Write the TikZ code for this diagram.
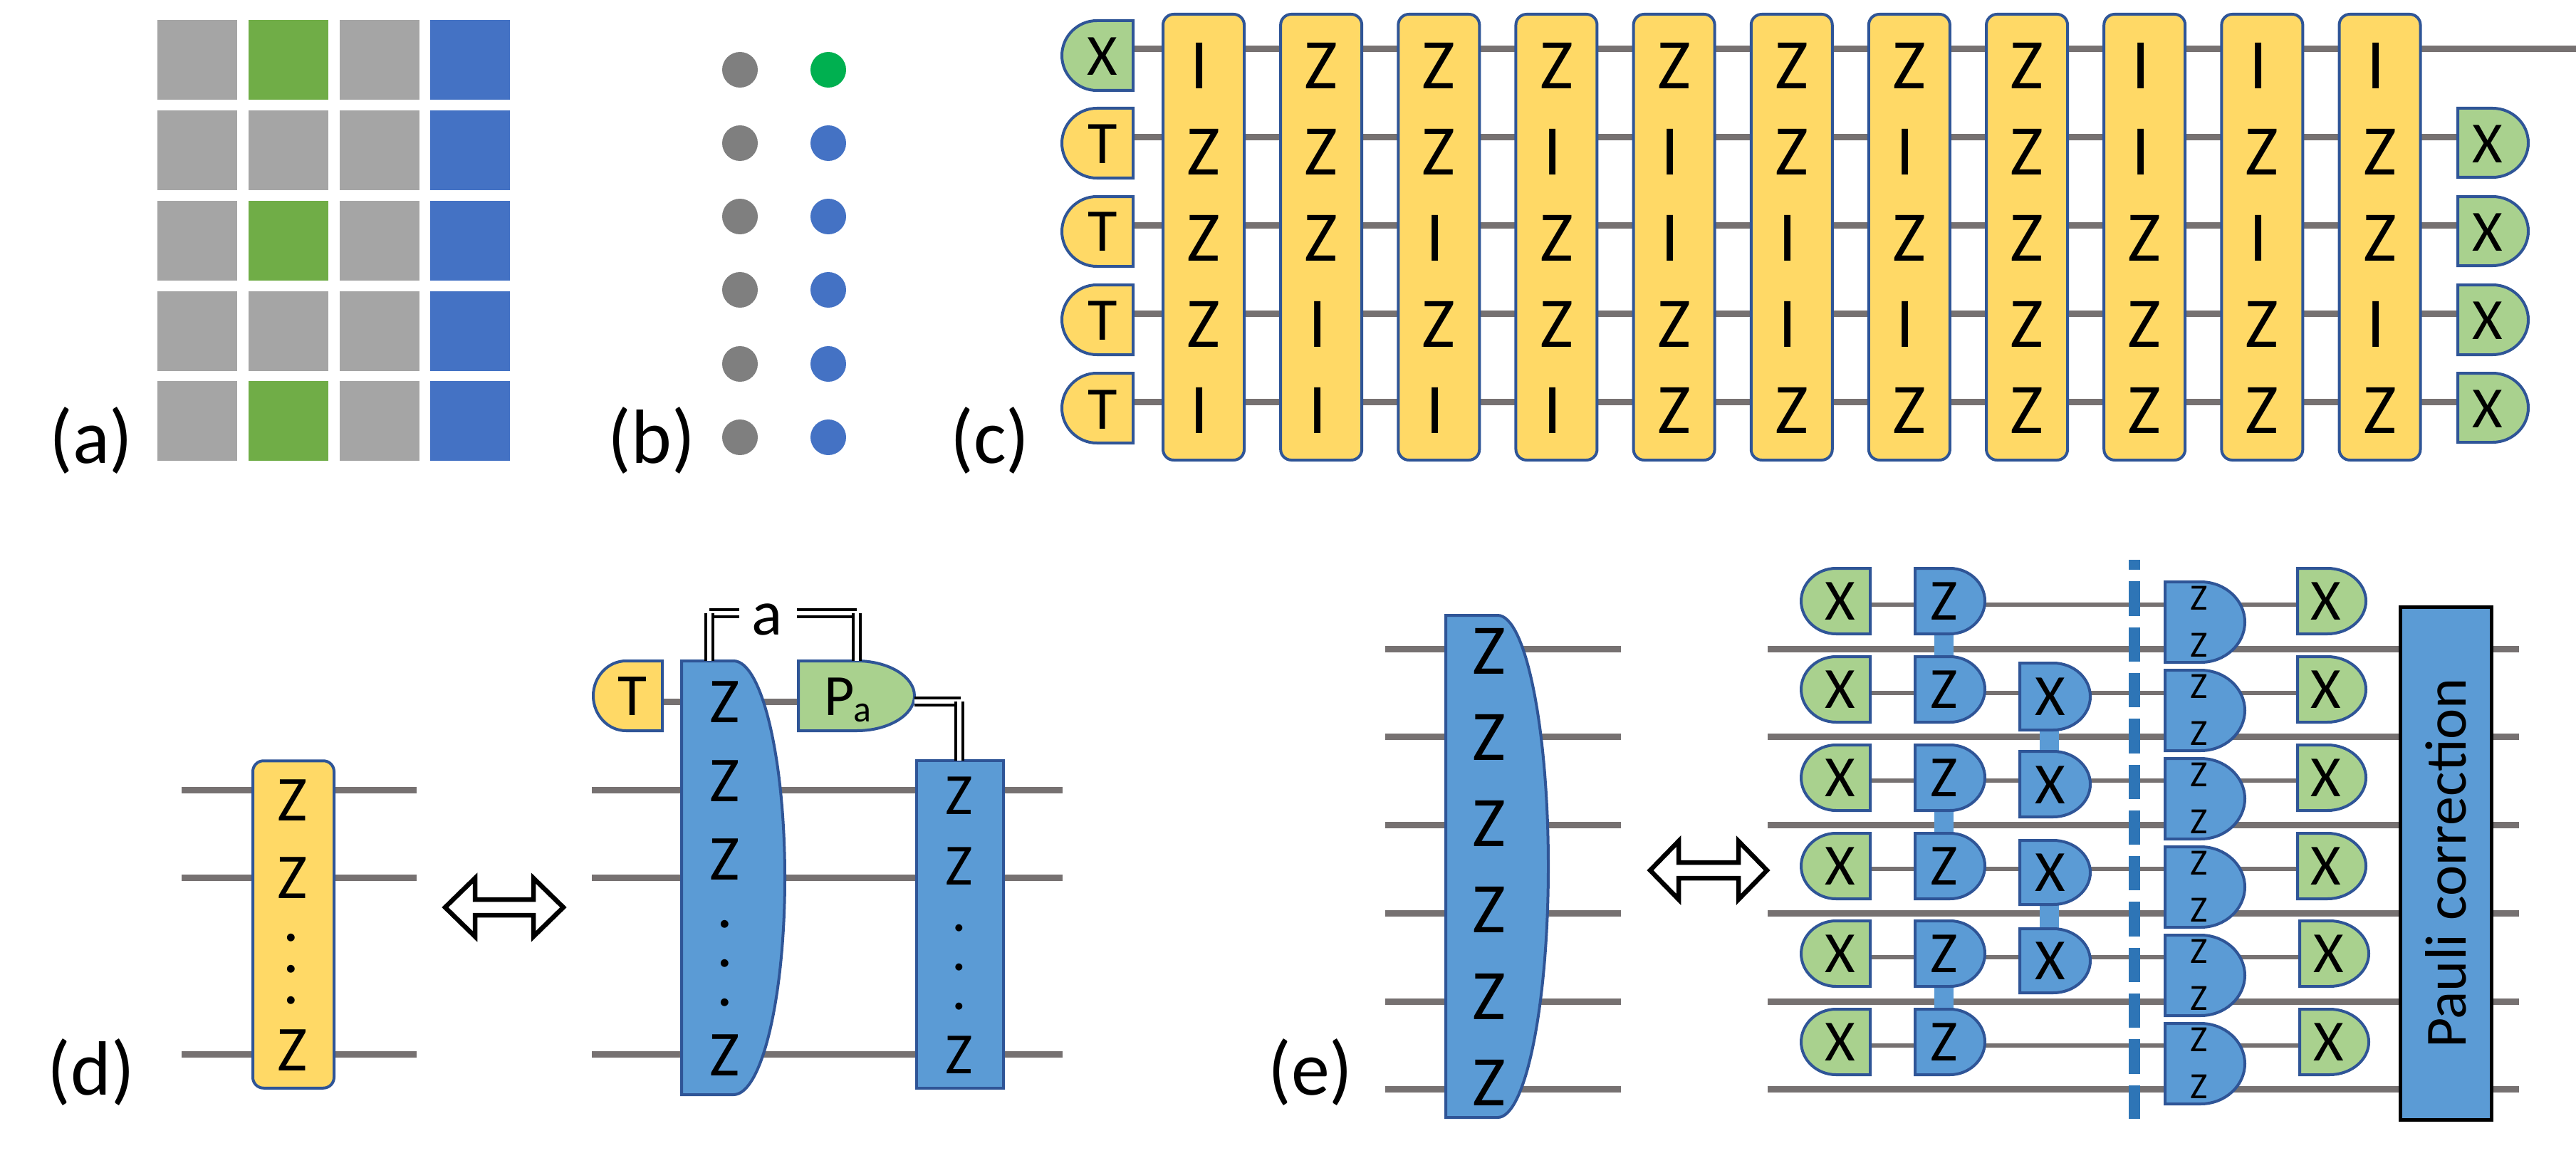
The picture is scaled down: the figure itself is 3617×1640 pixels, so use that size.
\documentclass[tikz,border=0pt]{standalone}
\usepackage{fontspec}
\setmainfont{Carlito}
\usetikzlibrary{backgrounds,calc}
\definecolor{cwire}{HTML}{767171}
\definecolor{cedge}{HTML}{2F5597}
\definecolor{cyel}{HTML}{FFD966}
\definecolor{cgrn}{HTML}{A9D18E}
\definecolor{cblu}{HTML}{5B9BD5}
\definecolor{cdash}{HTML}{2E75B6}
\definecolor{cgray}{HTML}{A5A5A5}
\definecolor{cgrid}{HTML}{70AD47}
\definecolor{cgridb}{HTML}{4472C4}
\definecolor{cdot}{HTML}{7F7F7F}
\definecolor{cdotg}{HTML}{00B050}
\newcommand\gfs[1]{\fontsize{#1}{#1}\selectfont}
% name, straight x, bend x, round x, top y, bottom y, fill
\newcommand\gate[7]{%
  \pgfmathsetmacro\gmid{(#5+#6)/2}%
  \pgfmathsetmacro\gk{0.45*(#6-#5)/2}%
  \pgfmathsetmacro\gxa{#3+0.55*(#4-#3)}%
  \path[fill=#7,draw=cedge,line width=4pt,line join=miter]
    (#2,#5) -- (#3,#5) .. controls (\gxa,#5) and (#4,{#5+\gk}) .. (#4,\gmid)
    .. controls (#4,{#6-\gk}) and (\gxa,#6) .. (#3,#6) -- (#2,#6) -- cycle;
  \node[gbound,minimum width={abs(#4-#2)*1pt},minimum height={(#6-#5)*1pt}] (#1) at ({(#2+#4)/2},\gmid) {};
}
\tikzset{
  x=1pt,y=-1pt,
  gbound/.style={inner sep=0pt,outer sep=0pt,draw=none},
  wire/.style={draw=cwire,line width=9pt},
  thinwire/.style={draw=cwire,line width=6.5pt},
  gl/.style={inner sep=0pt,outer sep=0pt,font=\gfs{#1}},
  gl/.default=80,
  cell/.style={inner sep=0pt,outer sep=0pt,minimum width=112pt,minimum height=#1,fill=cgray},
  dotn/.style={circle,inner sep=0pt,outer sep=0pt,minimum size=50pt,fill=#1},
  yelcol/.style={draw=cedge,fill=cyel,line width=4pt,rounded corners=15pt,inner sep=0pt,outer sep=0pt},
  blubox/.style={draw=cedge,fill=cblu,line width=4pt,inner sep=0pt,outer sep=0pt},
  pauli/.style={draw=black,fill=cblu,line width=5pt,inner sep=0pt,outer sep=0pt,font=\gfs{82}},
  dbl/.style={draw=black,line width=4pt,double=white,double distance=6pt},
  bar/.style={draw=cblu,line width=27pt},
  dashl/.style={draw=cdash,line width=16pt,dash pattern=on 48.3pt off 16pt,dash phase=34pt},
  bigarrow/.style={draw=black,fill=white,line width=6.5pt,line join=miter},
  lab/.style={inner sep=0pt,outer sep=0pt,font=\gfs{108}},
}
\begin{document}
\begin{tikzpicture}
\useasboundingbox (0,0) rectangle (3617,1640);
% ---------- (a)
\foreach \r/\yc in {1/84,2/211,3/337.5,4/464.5,5/591}{
  \foreach \c/\xc in {1/277,2/405,3/532.5}{
    \node[cell=112pt] (a\r\c) at (\xc,\yc) {};
  }
  \node[cell=112pt,fill=cgridb] (a\r4) at (660,\yc) {};
}
\foreach \r/\yc in {1/84,3/337.5,5/591}{
  \node[cell=112pt,fill=cgrid] (ag\r) at (405,\yc) {};
}
\node[lab] (la) at (128,618) {(a)};
% ---------- (b)
\foreach \r/\yc in {1/98,2/201,3/304,4/407,5/511,6/614}{
  \node[dotn=cdot] (bl\r) at (1039,\yc) {};
}
\node[dotn=cdotg] (br1) at (1163,98) {};
\foreach \r/\yc in {2/201,3/304,4/407,5/511,6/614}{
  \node[dotn=cgridb] (br\r) at (1163,\yc) {};
}
\node[lab] (lb) at (915,618) {(b)};
% ---------- (c)
\node[lab] (lc) at (1390,618) {(c)};
\gate{cin1}{1591}{1540}{1491}{29}{127}{cgrn}
\gate{cin2}{1591}{1540}{1491}{152}{250}{cyel}
\gate{cin3}{1591}{1540}{1491}{276}{374}{cyel}
\gate{cin4}{1591}{1540}{1491}{400}{498}{cyel}
\gate{cin5}{1591}{1540}{1491}{524}{622}{cyel}
\node[gl=82] (tx1) at (1548,79) {X};
\foreach \r/\yc in {2/202,3/325,4/450,5/575}{
  \node[gl=85] (tx\r) at (1548,\yc) {T};
}
\gate{cout2}{3451}{3500}{3550}{152}{249}{cgrn}
\gate{cout3}{3451}{3500}{3550}{276}{373}{cgrn}
\gate{cout4}{3451}{3500}{3550}{400}{498}{cgrn}
\gate{cout5}{3451}{3500}{3550}{524}{621}{cgrn}
\foreach \r/\yc in {2/202,3/326,4/450,5/574}{
  \node[gl=82] (ox\r) at (3492.5,\yc) {X};
}
\foreach \col [count=\i] in {{I,Z,Z,Z,I},{Z,Z,Z,I,I},{Z,Z,I,Z,I},{Z,I,Z,Z,I},{Z,I,I,Z,Z},{Z,Z,I,I,Z},{Z,I,Z,I,Z},{Z,Z,Z,Z,Z},{I,I,Z,Z,Z},{I,Z,I,Z,Z},{I,Z,Z,I,Z}}{
  \pgfmathsetmacro\cx{1690+165.15*(\i-1)}
  \node[yelcol,minimum width=114pt,minimum height=626pt] (col\i) at (\cx,333) {};
  \foreach \c [count=\r] in \col {
    \pgfmathsetmacro\ry{92+121*(\r-1)}
    \if I\c \pgfmathsetmacro\lx{\cx-5.5}\else \pgfmathsetmacro\lx{\cx}\fi
    \node[gl=100] (l\i-\r) at (\lx,\ry) {\c};
  }
}
\coordinate (wendc) at (3617,69);
\begin{scope}[on background layer]
  \draw[wire] (cin1.east |- wendc) -- (wendc);
  \foreach \r/\yw in {2/193,3/316,4/440,5/564}{
    \coordinate (w\r) at (2000,\yw);
    \draw[wire] (cin\r.east |- w\r) -- (cout\r.west |- w\r);
  }
\end{scope}
% ---------- (d)
\node[lab] (ld) at (128,1505) {(d)};
\node[yelcol,minimum width=114pt,minimum height=459.5pt] (dy) at (412,1298) {};
\node[gl=90] (dy1) at (411,1124) {Z};
\node[gl=90] (dy2) at (411,1233) {Z};
\node[gl=90] (dy3) at (408.5,1317) {.};
\node[gl=90] (dy4) at (408.5,1361) {.};
\node[gl=90] (dy5) at (408.5,1405) {.};
\node[gl=90] (dy6) at (411,1475) {Z};
\draw[bigarrow] (625,1274) -- (667,1233) -- (667,1263) -- (749,1263) -- (749,1233) -- (791,1274)
  -- (749,1315) -- (749,1285) -- (667,1285) -- (667,1315) -- cycle;
\gate{dT}{930}{879}{833}{928}{1026}{cyel}
\node[gl=84] (dTt) at (888,978) {T};
\gate{dbig}{957}{1030}{1102}{928}{1537}{cblu}
\foreach \n/\yc/\t in {1/986/Z,2/1097/Z,3/1207/Z,4/1298/.,5/1353/.,6/1408/.,7/1482/Z}{
  \node[gl=90] (db\n) at (1018,\yc) {\t};
}
\gate{dP}{1121}{1203}{1284}{928}{1026}{cgrn}
\node[gl=82] (dPt) at (1179,978) {P};
\node[gl=52] (dPa) at (1211,1001) {a};
\node[blubox,minimum width=122pt,minimum height=460pt] (dbox) at (1348,1298) {};
\foreach \n/\yc/\t in {1/1117/Z,2/1216/Z,3/1303/.,4/1358/.,5/1413/.,6/1481/Z}{
  \node[gl=82] (dr\n) at (1347,\yc) {\t};
}
\coordinate (dal) at (996,861);
\coordinate (dalend) at (1038,861);
\coordinate (darend) at (1119,861);
\coordinate (dar) at (1202.5,861);
\coordinate (dpc) at (1349,985);
\draw[dbl] (dalend) -- (dal);
\draw[dbl] (darend) -- (dar);
\draw[dbl] (dbig.north -| dal) -- (dal);
\draw[dbl] (dP.north -| dar) -- (dar);
\draw[dbl] (dP.east |- dpc) -- (dpc);
\draw[dbl] (dbox.north -| 1347,985) -- (1347,985);
\node[gl=90] (da) at (1077,870) {a};
\coordinate (dlw) at (255,1109);
\coordinate (drw) at (585,1109);
\coordinate (dmwl) at (831,1109);
\coordinate (dmwr) at (1492,1109);
\begin{scope}[on background layer]
  \foreach \yw in {1109,1232,1480}{
    \draw[wire] (dlw |- 0,\yw) -- (drw |- 0,\yw);
    \draw[wire] (dmwl |- 0,\yw) -- (dmwr |- 0,\yw);
  }
  \draw[wire] (dT.east |- 0,985) -- (dP.west |- 0,985);
\end{scope}
% ---------- (e)
\node[lab] (le) at (1840,1505) {(e)};
\gate{ebig}{2030}{2103}{2174}{864}{1569}{cblu}
\foreach \n/\yc in {1/914,2/1035,3/1156,4/1277,5/1399,6/1520}{
  \node[gl=100] (ez\n) at (2091,\yc) {Z};
}
\draw[bigarrow] (2317,1222) -- (2357,1181) -- (2357,1211) -- (2441,1211) -- (2441,1181) -- (2481,1222)
  -- (2441,1263) -- (2441,1233) -- (2357,1233) -- (2357,1263) -- cycle;
\foreach \n/\yc in {1/844,2/968,3/1092,4/1216,5/1339,6/1463}{
  \pgfmathsetmacro\ya{\yc-46}\pgfmathsetmacro\yb{\yc+46}
  \gate{exl\n}{2626}{2578}{2529}{\ya}{\yb}{cgrn}
  \node[gl=82] (exlt\n) at (2583.5,\yc) {X};
  \gate{ez\n g}{2689}{2738}{2787}{\ya}{\yb}{cblu}
  \node[gl=82] (ezt\n) at (2730,\yc) {Z};
}
\foreach \n/\yc in {1/844,2/968,3/1092,4/1216}{
  \pgfmathsetmacro\ya{\yc-46}\pgfmathsetmacro\yb{\yc+46}
  \gate{exr\n}{3226}{3268}{3322}{\ya}{\yb}{cgrn}
  \node[gl=82] (exrt\n) at (3266,\yc) {X};
}
\foreach \n/\yc in {5/1339,6/1463}{
  \pgfmathsetmacro\ya{\yc-46}\pgfmathsetmacro\yb{\yc+46}
  \gate{exr\n}{3229}{3271}{3326}{\ya}{\yb}{cgrn}
  \node[gl=82] (exrt\n) at (3270,\yc) {X};
}
\foreach \n/\ya/\yb/\yc in {1/931/1025/978.5,2/1055/1147/1102,3/1180/1270/1225,4/1304/1394/1349}{
  \gate{ex\n g}{2836}{2883}{2935}{\ya}{\yb}{cblu}
  \node[gl=82] (ext\n) at (2879,\yc) {X};
}
\foreach \n in {0,...,5}{
  \pgfmathsetmacro\ya{817+124*\n}\pgfmathsetmacro\yb{930+124*\n}
  \pgfmathsetmacro\za{840+124*\n}\pgfmathsetmacro\zb{906+124*\n}
  \gate{ezz\n}{3040}{3090}{3152}{\ya}{\yb}{cblu}
  \node[gl=52] (ezza\n) at (3088,\za) {Z};
  \node[gl=52] (ezzb\n) at (3088,\zb) {Z};
}
\node[pauli,rotate=90,minimum width=720pt,minimum height=128pt] (epc) at (3434.5,1212) {Pauli correction};
\coordinate (edt) at (2997,786);
\coordinate (edb) at (2997,1571);
\coordinate (ewl) at (2482,911);
\coordinate (ewr) at (3537,911);
\coordinate (ebl) at (1945,911);
\coordinate (ebr) at (2276,911);
\begin{scope}[on background layer]
  \foreach \yw in {911,1034,1158,1282,1406,1529}{
    \draw[wire] (ebl |- 0,\yw) -- (ebr |- 0,\yw);
    \draw[wire] (ewl |- 0,\yw) -- (ewr |- 0,\yw);
  }
  \foreach \n/\yw in {1/849,2/973,3/1096,4/1220,5/1344,6/1468}{
    \draw[thinwire] (exl\n.east |- 0,\yw) -- (exr\n.west |- 0,\yw);
  }
  \draw[dashl] (edt) -- (edb);
  \draw[bar] ([xshift=-9pt]ez1g.south) -- ([xshift=-9pt]ez2g.north);
  \draw[bar] ([xshift=-9pt]ez3g.south) -- ([xshift=-9pt]ez4g.north);
  \draw[bar] ([xshift=-9pt]ez5g.south) -- ([xshift=-9pt]ez6g.north);
  \draw[bar] ([xshift=-8.5pt]ex1g.south) -- ([xshift=-8.5pt]ex2g.north);
  \draw[bar] ([xshift=-8.5pt]ex3g.south) -- ([xshift=-8.5pt]ex4g.north);
\end{scope}
\end{tikzpicture}
\end{document}
